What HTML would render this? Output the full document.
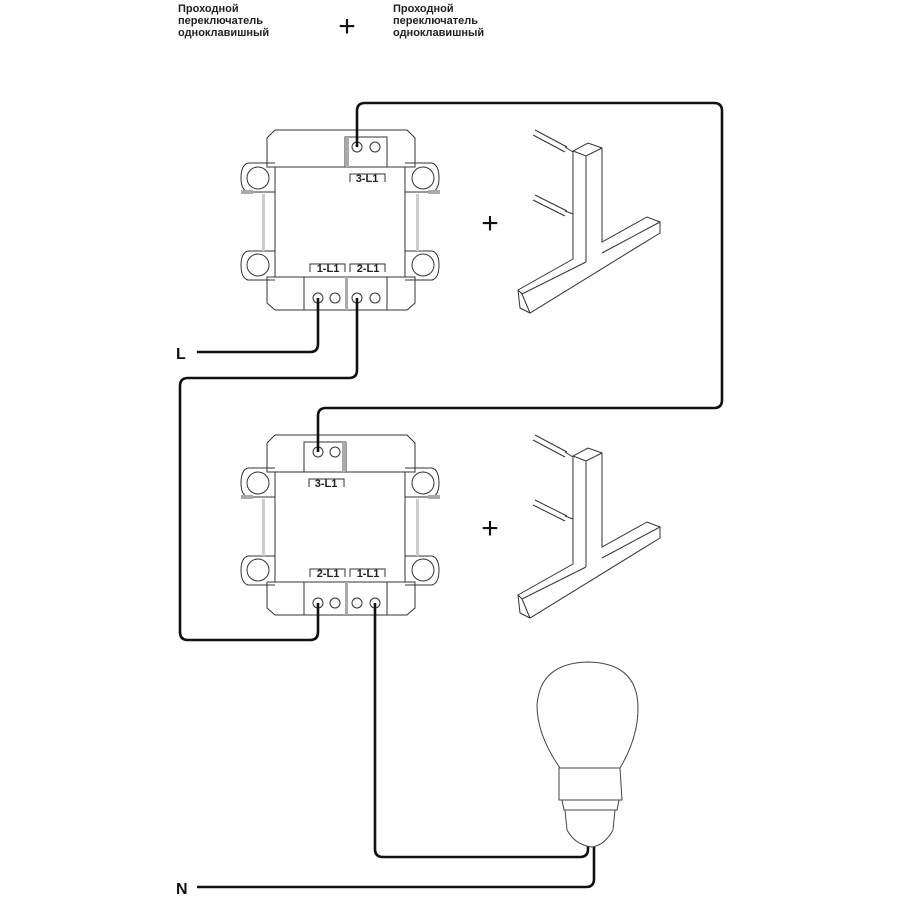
<!DOCTYPE html>
<html><head><meta charset="utf-8"><style>
body{margin:0;background:#fff;width:900px;height:900px;overflow:hidden}
.t{position:absolute;font:bold 11px/12px "Liberation Sans",sans-serif;color:#222}
</style></head><body>
<div class="t" style="left:178px;top:3px">Проходной<br>переключатель<br>одноклавишный</div>
<div class="t" style="left:393px;top:3px">Проходной<br>переключатель<br>одноклавишный</div>
<svg width="900" height="900" style="position:absolute;left:0;top:0" xmlns="http://www.w3.org/2000/svg">
<defs>
<g id="body" fill="none" stroke="#333" stroke-width="1">
 <path d="M275 130 L407 130 L415 138 L415 167 L267 167 L267 138 Z" fill="#fff"/>
 <rect x="275" y="167" width="130" height="110" fill="#fff"/>
 <path d="M267 277 L415 277 L415 303 L407 310 L275 310 L267 303 Z" fill="#fff"/>
 <path d="M275 163 L248 163 Q241 165 241 178 Q241 190 248 192 L275 192"/>
 <circle cx="258" cy="178" r="11"/>
 <path d="M275 251 L248 251 Q241 253 241 265 Q241 278 248 280 L275 280"/>
 <circle cx="258" cy="265" r="11"/>
 <path d="M405 163 L432 163 Q439 165 439 178 Q439 190 432 192 L405 192"/>
 <circle cx="423" cy="178" r="11"/>
 <path d="M405 251 L432 251 Q439 253 439 265 Q439 278 432 280 L405 280"/>
 <circle cx="423" cy="265" r="11"/>
 <rect x="241" y="190" width="12" height="4" fill="#aaa" stroke="none"/>
 <rect x="262" y="194" width="3" height="57" fill="#ccc" stroke="none"/>
 <rect x="428" y="190" width="12" height="4" fill="#aaa" stroke="none"/>
 <rect x="416" y="194" width="3" height="57" fill="#ccc" stroke="none"/>
 <rect x="304" y="277" width="83" height="33" fill="#fff"/>
 <rect x="345" y="277" width="3" height="33" fill="#aaa" stroke="none"/>
 <circle cx="318" cy="298" r="5"/><circle cx="335" cy="298" r="5"/>
 <circle cx="357" cy="298" r="5"/><circle cx="375" cy="298" r="5"/>
 <path d="M310 272 L310 264 L345 264 L345 272 M350 272 L350 264 L385 264 L385 272"/>
</g>
<g id="tee" fill="none" stroke="#333" stroke-width="1">
 <path d="M518 290 L573 259 L573 151 L588 143 L602 148 L602 242 L647 217 L660 222 L660 233 L530 313 L520 308 Z" fill="#fff"/>
 <path d="M573 151 L586 156 L602 148 M586 156 L586 262"/>
 <path d="M518 290 L522 294 L586 262 M522 294 L530 313"/>
 <path d="M602 253 L660 222"/>
 <path d="M535 130 L567 147 M533 135 L565 152 M565 147 L573 152"/>
 <path d="M535 195 L567 211 M533 200 L565 216 M565 211 L573 214"/>
</g>
</defs>
<use href="#body"/>
<rect x="345" y="137" width="42" height="30" fill="#fff" stroke="#333"/>
<rect x="345" y="137" width="4" height="30" fill="#aaa"/>
<circle cx="357" cy="147" r="5" fill="none" stroke="#333"/><circle cx="375" cy="147" r="5" fill="none" stroke="#333"/>
<path d="M350 182 L350 174 L385 174 L385 182" fill="none" stroke="#333"/>
<g transform="translate(0,305)"><use href="#body"/>
<rect x="304" y="137" width="42" height="30" fill="#fff" stroke="#333"/>
<rect x="342" y="137" width="4" height="30" fill="#aaa"/>
<circle cx="318" cy="147" r="5" fill="none" stroke="#333"/><circle cx="335" cy="147" r="5" fill="none" stroke="#333"/>
<path d="M309 182 L309 174 L344 174 L344 182" fill="none" stroke="#333"/>
</g>
<use href="#tee"/><use href="#tee" transform="translate(0,305)"/>
<g font-family="Liberation Sans,sans-serif" font-size="11" font-weight="bold" fill="#222" text-anchor="middle">
<text x="367" y="182">3-L1</text><text x="328" y="272">1-L1</text><text x="368" y="272">2-L1</text>
<text x="326" y="487">3-L1</text><text x="328" y="577">2-L1</text><text x="368" y="577">1-L1</text>
</g>
<g font-family="Liberation Sans,sans-serif" font-size="30" fill="#111" text-anchor="middle">
<text x="490" y="233">+</text><text x="490" y="538">+</text><text x="347" y="36" font-size="30" font-weight="normal">+</text>
</g>
<g font-family="Liberation Sans,sans-serif" font-size="16" font-weight="bold" fill="#111">
<text x="176" y="359">L</text><text x="176" y="894">N</text>
</g>
<g fill="none" stroke="#111" stroke-width="2.6" stroke-linejoin="round">
<path d="M197 352 L310 352 Q318 352 318 344 L318 298"/>
<path d="M357 298 L357 370 Q357 378 349 378 L188 378 Q180 378 180 386 L180 632 Q180 640 188 640 L310 640 Q318 640 318 632 L318 603"/>
<path d="M357 147 L357 111 Q357 103 365 103 L714 103 Q722 103 722 111 L722 400 Q722 408 714 408 L326 408 Q318 408 318 416 L318 452"/>
<path d="M375 603 L375 849 Q375 857 383 857 L580 857 Q588 857 588 849 L588 845"/>
<path d="M197 887 L586 887 Q594 887 594 879 L594 845"/>
</g>
<g fill="#fff" stroke="#444" stroke-width="1">
<path d="M560 768 Q537 735 537 705 Q540 663 588 662 Q638 663 638 708 Q638 738 620 768 Z"/>
<path d="M559 768 L620 768 L622 800 L559 800 Z"/>
<path d="M562 800 L619 800 L617 810 L564 810 Z"/>
<path d="M565 810 L615 810 L613 830 Q605 845 592 847 Q575 845 567 830 Z"/>
</g>
</svg>
</body></html>
